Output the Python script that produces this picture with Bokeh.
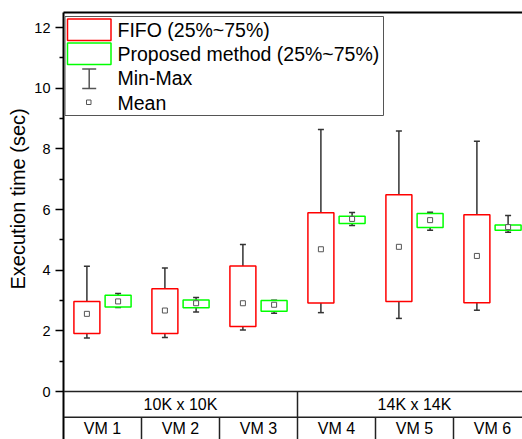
from bokeh.plotting import figure
from bokeh.models import (Range1d, FixedTicker, Whisker, TeeHead, Span, BoxAnnotation,
                          Label, Arrow, ColumnDataSource, LinearAxis, Title)
from bokeh.core.properties import value
from bokeh.embed import file_html
from bokeh.resources import INLINE

# ---------------- data ----------------
vms = ["VM 1", "VM 2", "VM 3", "VM 4", "VM 5", "VM 6"]
groups = ["10K x 10K", "10K x 10K", "10K x 10K", "14K x 14K", "14K x 14K", "14K x 14K"]

fifo_min = [1.76, 1.78, 2.03, 2.60, 2.41, 2.68]
fifo_q1 = [1.91, 1.91, 2.14, 2.92, 2.97, 2.93]
fifo_q3 = [2.97, 3.39, 4.14, 5.89, 6.49, 5.83]
fifo_max = [4.13, 4.07, 4.85, 8.64, 8.59, 8.25]
fifo_mean = [2.56, 2.67, 2.91, 4.69, 4.77, 4.47]

prop_min = [2.77, 2.62, 2.58, 5.47, 5.32, 5.25]
prop_q1 = [2.79, 2.76, 2.65, 5.54, 5.41, 5.32]
prop_q3 = [3.17, 3.02, 3.00, 5.78, 5.87, 5.49]
prop_max = [3.23, 3.10, 3.01, 5.90, 5.91, 5.80]
prop_mean = [2.97, 2.91, 2.86, 5.69, 5.65, 5.42]

y_ticks = [0, 2, 4, 6, 8, 10, 12]
y_minor = [1, 3, 5, 7, 9, 11]
y_title = "Execution time (sec)"

# ---------------- layout constants ----------------
W, H = 522, 439
FL, FT = 63, 12            # frame left / top in px
PXX = 78.0                 # px per category
PXY = 30.33                # px per second
X_START = 0.5
X_END = X_START + (W - FL) / PXX
Y_END = 12 + (391 - FT - 12 * PXY) / PXY
Y_START = Y_END - (H - FT) / PXY
ROW = -0.85                # boundary between group row and VM row

def dx(px):
    return X_START + (px - FL) / PXX

def dy(py):
    return Y_END - (py - FT) / PXY

FONT = "Liberation Sans"
RED = "#FF0000"
GREEN = "#00FF00"
WHISK = "#333333"

p = figure(width=W, height=H, output_backend="svg", toolbar_location=None,
           x_axis_location=None, title=None,
           x_range=Range1d(X_START, X_END), y_range=Range1d(Y_START, Y_END),
           min_border_left=FL, min_border_right=0, min_border_top=FT, min_border_bottom=0)
p.outline_line_color = None
p.xgrid.visible = False
p.ygrid.visible = False
p.background_fill_color = "white"

# top frame line
top = LinearAxis(ticker=FixedTicker(ticks=[]), major_label_text_font_size="0px",
                 axis_line_width=2, axis_line_color="black",
                 major_tick_line_color=None, minor_tick_line_color=None)
p.add_layout(top, "above")

ya = p.yaxis[0]
ya.ticker = FixedTicker(ticks=y_ticks, minor_ticks=y_minor)
ya.major_label_text_font = FONT
ya.major_label_text_font_size = "14.5px"
ya.major_label_text_color = "black"
ya.major_label_standoff = 5
ya.axis_line_width = 2
ya.axis_line_color = "black"
ya.major_tick_line_color = "black"
ya.major_tick_line_width = 1.5
ya.minor_tick_line_color = "black"
ya.minor_tick_line_width = 1.5
ya.major_tick_in = 0
ya.major_tick_out = 8
ya.minor_tick_in = 0
ya.minor_tick_out = 4

# axis title, placed on the left side and shifted so it is centred on the 0..12 span
p.add_layout(Title(text=y_title, align="left", offset=150, standoff=6,
                   text_font=FONT, text_font_size="20px", text_font_style="normal",
                   text_color="black"), "left")

# ---------------- boxes ----------------
idx = list(range(1, len(vms) + 1))
series = [
    (fifo_min, fifo_q1, fifo_q3, fifo_max, fifo_mean, -0.2, RED),
    (prop_min, prop_q1, prop_q3, prop_max, prop_mean, 0.2, GREEN),
]
for mn, q1, q3, mx, mean, off, col in series:
    src = ColumnDataSource(dict(x=[i + off for i in idx], mn=mn, q1=q1, q3=q3, mx=mx, mean=mean))
    up = Whisker(source=src, base="x", lower="q3", upper="mx", line_color=WHISK, line_width=1.5,
                 lower_head=None,
                 upper_head=TeeHead(size=6, line_color=WHISK, line_width=1.5))
    lo = Whisker(source=src, base="x", lower="mn", upper="q1", line_color=WHISK, line_width=1.5,
                 upper_head=None,
                 lower_head=TeeHead(size=6, line_color=WHISK, line_width=1.5))
    p.add_layout(up)
    p.add_layout(lo)
    p.vbar(x="x", width=0.333, top="q3", bottom="q1", source=src,
           fill_color="white", line_color=col, line_width=1.5)
    p.scatter(x="x", y="mean", source=src, marker="square", size=5,
              fill_color="white", line_color="#555555", line_width=1)

# ---------------- category table ----------------
p.add_layout(Span(location=0, dimension="width", line_color="#222222", line_width=1.5))
p.add_layout(Span(location=ROW, dimension="width", line_color="#222222", line_width=1.5))

sep_x, sep_top = [], []
for i in range(1, len(vms)):
    sep_x.append(i + 0.5)
    sep_top.append(0 if groups[i] != groups[i - 1] else ROW)
p.segment(x0=sep_x, y0=sep_top, x1=sep_x, y1=[Y_START - 1] * len(sep_x),
          line_color="#222222", line_width=1.5)

grp_names, grp_x = [], []
for g in groups:
    if g not in grp_names:
        grp_names.append(g)
for g in grp_names:
    pos = [i for i, gg in zip(idx, groups) if gg == g]
    grp_x.append(sum(pos) / len(pos))

p.text(x=grp_x, y=[ROW / 2] * len(grp_x), text=grp_names, text_font=value(FONT),
       text_font_size="16px", text_align="center", text_baseline="middle", text_color="black")
p.text(x=idx, y=[(ROW + Y_START) / 2] * len(idx), text=vms, text_font=value(FONT),
       text_font_size="16px", text_align="center", text_baseline="middle", text_color="black")

# ---------------- legend ----------------
p.add_layout(BoxAnnotation(left=dx(64.5), right=dx(383), top=dy(16), bottom=dy(115),
                           fill_color="white", fill_alpha=1, line_color="#555555",
                           line_alpha=1, line_width=1))
p.add_layout(BoxAnnotation(left=dx(67), right=dx(110.5), top=dy(18.5), bottom=dy(40),
                           fill_color="white", fill_alpha=1, line_color=RED,
                           line_alpha=1, line_width=1.5))
p.add_layout(BoxAnnotation(left=dx(67), right=dx(110.5), top=dy(42.5), bottom=dy(64),
                           fill_color="white", fill_alpha=1, line_color=GREEN,
                           line_alpha=1, line_width=1.5))
p.add_layout(Arrow(x_start=dx(88.7), y_start=dy(68.5), x_end=dx(88.7), y_end=dy(88),
                   line_color="#555555", line_width=1.5,
                   start=TeeHead(size=14, line_color="#555555", line_width=1.5),
                   end=TeeHead(size=14, line_color="#555555", line_width=1.5)))
p.add_layout(BoxAnnotation(left=dx(86), right=dx(90.5), top=dy(99.5), bottom=dy(104),
                           fill_color="white", fill_alpha=1, line_color="#555555",
                           line_alpha=1, line_width=1))

legend_labels = ["FIFO (25%~75%)", "Proposed method (25%~75%)", "Min-Max", "Mean"]
legend_rows = [29, 53, 77.5, 102]
for txt, row in zip(legend_labels, legend_rows):
    p.add_layout(Label(x=dx(117), y=dy(row), text=txt, text_font=FONT,
                       text_font_size="19.5px", text_baseline="middle", text_align="left",
                       text_color="black"))

open("out.html", "w").write(file_html(p, INLINE))
